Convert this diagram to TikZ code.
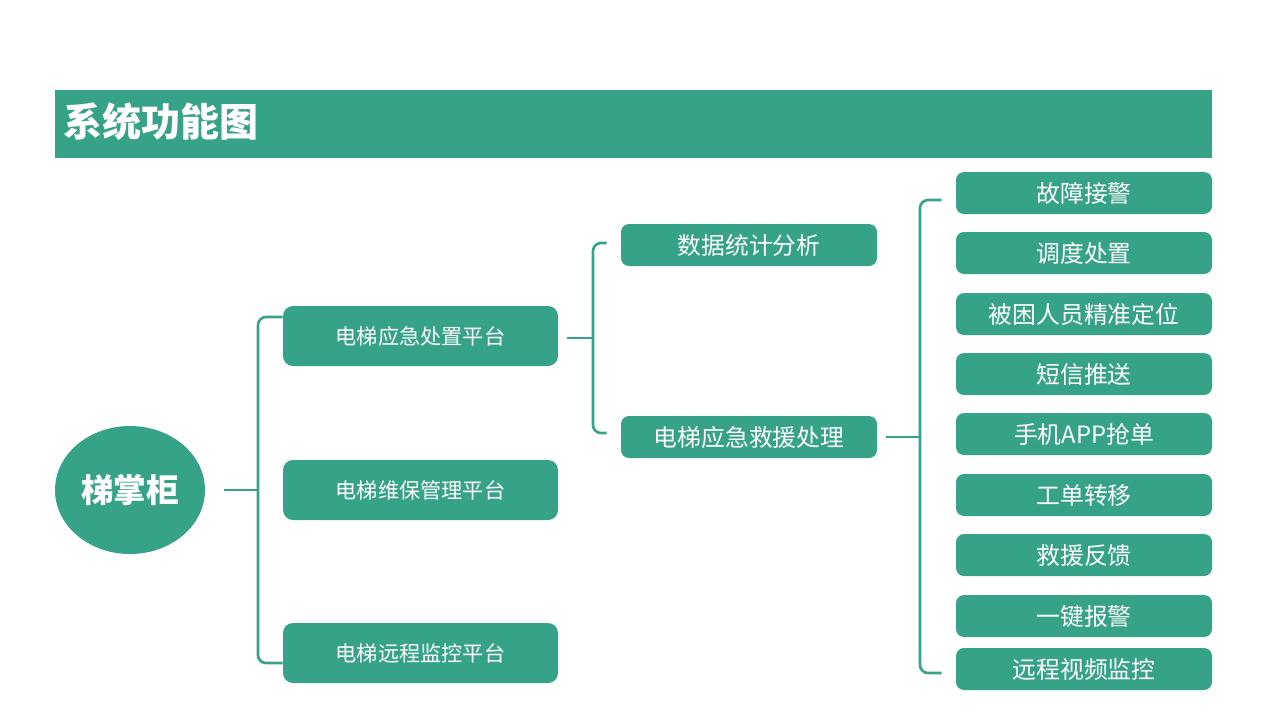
\documentclass[tikz,border=0pt]{standalone}
\usepackage{fontspec}
\setmainfont{Noto Sans CJK SC}
\usetikzlibrary{shapes.geometric,calc}
\definecolor{teal}{RGB}{54,162,136}
\begin{document}
\begin{tikzpicture}[x=0.5pt, y=-0.5pt,
  bar/.style={fill=teal, draw=none},
  rootnode/.style={ellipse, fill=teal, text=white, inner sep=0pt, minimum width=75pt, minimum height=64pt, font=\fontsize{16.3}{20}\selectfont\bfseries},
  platbox/.style={rectangle, rounded corners=5pt, fill=teal, text=white, minimum width=137.5pt, minimum height=30pt, inner sep=0pt, font=\fontsize{10.6}{12}\selectfont},
  midbox/.style={rectangle, rounded corners=4pt, fill=teal, text=white, minimum width=128pt, minimum height=21pt, inner sep=0pt, font=\fontsize{11.9}{14}\selectfont},
  leafbox/.style={midbox},
  link/.style={draw=teal, line width=1.3pt, rounded corners=4pt}]
\useasboundingbox (0,0) rectangle (1280,720);
\fill[bar] (55,90) rectangle (1212,158);
\node[anchor=west, text=white, inner sep=0pt, font=\fontsize{19.5}{22}\selectfont\bfseries] (title) at (63,122) {系统功能图};

\node[rootnode] (root) at (130,490) {梯掌柜};

\node[platbox] (p1) at (420.5,336) {电梯应急处置平台};
\node[platbox] (p2) at (420.5,490) {电梯维保管理平台};
\node[platbox] (p3) at (420.5,653) {电梯远程监控平台};

\node[midbox] (m1) at (749,245) {数据统计分析};
\node[midbox] (m2) at (749,437) {电梯应急救援处理};

\node[leafbox] (l1) at (1084,193) {故障接警};
\node[leafbox] (l2) at (1084,253) {调度处置};
\node[leafbox] (l3) at (1084,314) {被困人员精准定位};
\node[leafbox] (l4) at (1084,374) {短信推送};
\node[leafbox] (l5) at (1084,434) {手机APP抢单};
\node[leafbox] (l6) at (1084,495) {工单转移};
\node[leafbox] (l7) at (1084,555) {救援反馈};
\node[leafbox] (l8) at (1084,616) {一键报警};
\node[leafbox] (l9) at (1084,669) {远程视频监控};

% brackets
\coordinate (b1) at (258,490);
\coordinate (b2) at (593,338);
\coordinate (b3) at (920,437);
\draw[link] ($(root.east)+(19,0)$) -- (b1);
\draw[link] ($(p1.west)+(0,-19)$) -| (b1) |- ($(p3.west)+(0,10)$);
\draw[link] ($(p1.east)+(9,2)$) -- (b2);
\draw[link] ($(m1.west)+(-14,-2)$) -| (b2) |- ($(m2.west)+(-14,-4)$);
\draw[link] ($(m2.east)+(9,0)$) -- (b3);
\draw[link] ($(l1.west)+(-14,7)$) -| (b3) |- ($(l9.west)+(-14,4)$);
\end{tikzpicture}
\end{document}
